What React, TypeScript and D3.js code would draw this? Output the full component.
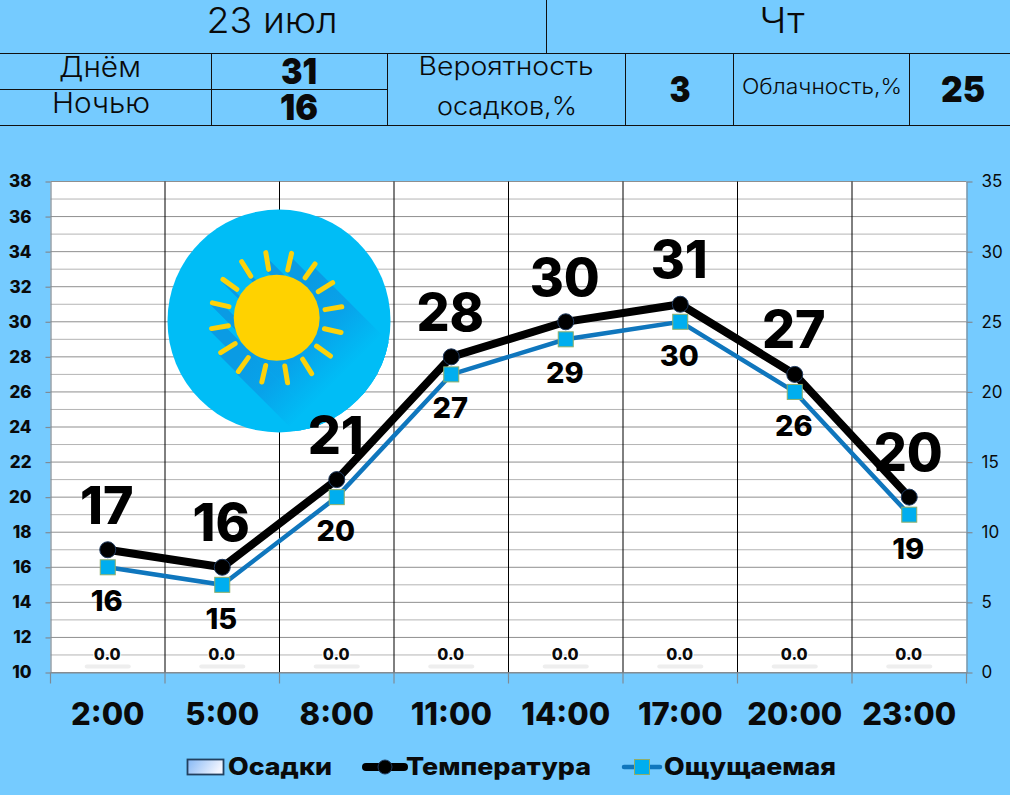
import { useEffect, useRef } from "react"
import * as d3 from "d3"

const hours = ["2:00", "5:00", "8:00", "11:00", "14:00", "17:00", "20:00", "23:00"]
const temperature = [17, 16, 21, 28, 30, 31, 27, 20]
const feelsLike = [16, 15, 20, 27, 29, 30, 26, 19]
const precipitation = [0, 0, 0, 0, 0, 0, 0, 0]
const leftTicks = d3.range(10, 39, 2)
const minorTicks = d3.range(10, 39, 1)
const rightTicks = [0, 5, 10, 15, 20, 25, 30, 35]

const FONT = "Inter, 'Open Sans', sans-serif"
const BG = "#75cbff"

export default function App() {
  const svgRef = useRef<SVGSVGElement>(null)

  useEffect(() => {
    if (!svgRef.current) return
    const root = d3.select(svgRef.current)
    root.selectAll("*").remove()
    root.attr("font-family", FONT)

    const width = 1010
    const height = 795
    const plot = { left: 50.5, right: 966.5, top: 181.5, bottom: 672.5 }

    root.append("rect").attr("width", width).attr("height", height).attr("fill", BG)

    // Header table
    const table = root.append("g").attr("stroke", "#111").attr("stroke-width", 1)
    const hLines = [
      [0, width, 53.5],
      [0, 387, 89.5],
      [0, width, 125.5],
    ]
    hLines.forEach(([x1, x2, y]) => {
      table.append("line").attr("x1", x1).attr("x2", x2).attr("y1", y).attr("y2", y)
    })
    const vLines = [
      [546.5, 0, 53],
      [211.5, 53, 125],
      [387.5, 53, 125],
      [625.5, 53, 125],
      [733.5, 53, 125],
      [909.5, 53, 125],
    ]
    vLines.forEach(([x, y1, y2]) => {
      table.append("line").attr("x1", x).attr("x2", x).attr("y1", y1).attr("y2", y2)
    })

    const cells: [string, number, number, number, number, number][] = [
      ["23 июл", 272, 33, 36, 300, 131],
      ["Чт", 782, 33, 36, 300, 45],
      ["Днём", 100, 77, 28, 300, 82],
      ["Ночью", 101, 113, 28, 300, 98],
      ["31", 299, 84, 36, 900, 36],
      ["16", 299, 120, 36, 900, 38],
      ["Вероятность", 506, 75, 25, 300, 175],
      ["осадков,%", 507, 115, 25, 300, 140],
      ["3", 680, 102, 36, 900, 21],
      ["Облачность,%", 822, 94, 22, 300, 160],
      ["25", 963, 102, 36, 900, 44],
    ]
    cells.forEach(([label, x, y, size, weight, len]) => {
      root
        .append("text")
        .attr("x", x)
        .attr("y", y)
        .attr("text-anchor", "middle")
        .attr("font-size", size)
        .attr("font-weight", weight)
        .attr("fill", "#0a0a0a")
        .attr("textLength", len)
        .attr("lengthAdjust", "spacingAndGlyphs")
        .text(label)
    })

    // Scales
    const x = d3.scaleBand<string>().domain(hours).range([plot.left, plot.right])
    const y = d3.scaleLinear().domain([10, 38]).range([plot.bottom, plot.top])
    const yRight = d3.scaleLinear().domain([0, 35]).range([plot.bottom, plot.top])
    const cx = (h: string) => (x(h) as number) + x.bandwidth() / 2

    root
      .append("rect")
      .attr("x", plot.left)
      .attr("y", plot.top)
      .attr("width", plot.right - plot.left)
      .attr("height", plot.bottom - plot.top)
      .attr("fill", "#fff")

    // Grid lines
    root
      .append("g")
      .selectAll("line")
      .data(minorTicks)
      .join("line")
      .attr("x1", plot.left)
      .attr("x2", plot.right)
      .attr("y1", (d) => y(d))
      .attr("y2", (d) => y(d))
      .attr("stroke", (d) => (d % 2 === 0 ? "#8f8f8f" : "#b4b4b4"))
      .attr("stroke-width", 1)

    root
      .append("g")
      .selectAll("line")
      .data(hours.slice(1))
      .join("line")
      .attr("x1", (d) => x(d) as number)
      .attr("x2", (d) => x(d) as number)
      .attr("y1", plot.top)
      .attr("y2", plot.bottom)
      .attr("stroke", "#000")
      .attr("stroke-width", 1)

    // Sun icon
    const defs = root.append("defs")
    const iconX = 279
    const iconY = 321
    const iconR = 111.5
    const sunX = 276.7
    const sunY = 317.7
    defs
      .append("clipPath")
      .attr("id", "icon-clip")
      .append("circle")
      .attr("cx", iconX)
      .attr("cy", iconY)
      .attr("r", iconR)
    const shadowGrad = defs
      .append("linearGradient")
      .attr("id", "sun-shadow")
      .attr("gradientUnits", "userSpaceOnUse")
      .attr("x1", sunX)
      .attr("y1", sunY)
      .attr("x2", sunX + 85)
      .attr("y2", sunY + 85)
    shadowGrad.append("stop").attr("offset", 0).attr("stop-color", "#0a9be4")
    shadowGrad.append("stop").attr("offset", 0.35).attr("stop-color", "#08a3ea")
    shadowGrad.append("stop").attr("offset", 0.72).attr("stop-color", "#00bdf6")

    root
      .append("circle")
      .attr("cx", iconX)
      .attr("cy", iconY)
      .attr("r", iconR)
      .attr("fill", "#00bdf6")
    const shadow = root.append("g").attr("clip-path", "url(#icon-clip)").attr("fill", "url(#sun-shadow)")
    const sweep = 170
    const rays = d3.range(16).map((i) => {
      const a = ((-99.5 + i * 22.5) * Math.PI) / 180
      return {
        x1: sunX + 49 * Math.cos(a),
        y1: sunY + 49 * Math.sin(a),
        x2: sunX + 66 * Math.cos(a),
        y2: sunY + 66 * Math.sin(a),
      }
    })
    const poly = (pts: [number, number][]) => (d3.line()(pts) as string) + "Z"
    const d45 = sweep * Math.SQRT1_2
    const diagX = 43 * Math.SQRT1_2
    shadow
      .append("path")
      .attr(
        "d",
        poly([
          [sunX + diagX, sunY - diagX],
          [sunX + diagX + d45, sunY - diagX + d45],
          [sunX - diagX + d45, sunY + diagX + d45],
          [sunX - diagX, sunY + diagX],
        ]),
      )
    shadow
      .selectAll("path.ray")
      .data(rays)
      .join("path")
      .attr("class", "ray")
      .attr("d", (r) =>
        poly([
          [r.x1 - 2, r.y1 + 2],
          [r.x2 - 2, r.y2 + 2],
          [r.x2 + d45 - 2, r.y2 + d45 + 2],
          [r.x1 + d45 - 2, r.y1 + d45 + 2],
        ]),
      )
    root
      .append("g")
      .selectAll("line")
      .data(rays)
      .join("line")
      .attr("x1", (r) => r.x1)
      .attr("y1", (r) => r.y1)
      .attr("x2", (r) => r.x2)
      .attr("y2", (r) => r.y2)
      .attr("stroke", "#fdd20a")
      .attr("stroke-width", 5)
      .attr("stroke-linecap", "round")
    root
      .append("circle")
      .attr("cx", sunX)
      .attr("cy", sunY)
      .attr("r", 43)
      .attr("fill", "#ffd200")

    // Axes
    const styleAxis = (g: d3.Selection<SVGGElement, unknown, null, undefined>) => {
      g.selectAll("path,line").attr("stroke", "#7f8a94").attr("stroke-width", 1.2)
      g.selectAll("text").attr("font-family", FONT).attr("fill", "#0a0a0a")
    }

    const leftAxis = root
      .append("g")
      .attr("transform", `translate(${plot.left},0)`)
      .call(d3.axisLeft(y).tickValues(leftTicks).tickSize(5).tickSizeOuter(0).tickPadding(14))
    styleAxis(leftAxis)
    leftAxis.selectAll("text").attr("font-size", 17).attr("font-weight", 800)

    const rightAxis = root
      .append("g")
      .attr("transform", `translate(${plot.right},0)`)
      .call(d3.axisRight(yRight).tickValues(rightTicks).tickSize(6).tickSizeOuter(0).tickPadding(9))
    styleAxis(rightAxis)
    rightAxis.selectAll("text").attr("font-size", 17).attr("font-weight", 400)

    const xAxis = root
      .append("g")
      .attr("transform", `translate(0,${plot.bottom})`)
      .call(d3.axisBottom(x).tickSize(0).tickPadding(30))
    styleAxis(xAxis)
    xAxis.selectAll("text").attr("font-size", 31).attr("font-weight", 800)
    xAxis
      .selectAll("line.sep")
      .data([...hours, "end"])
      .join("line")
      .attr("class", "sep")
      .attr("x1", (d) => (d === "end" ? plot.right : (x(d) as number)))
      .attr("x2", (d) => (d === "end" ? plot.right : (x(d) as number)))
      .attr("y1", 0)
      .attr("y2", 11)
      .attr("stroke", "#7f8a94")
      .attr("stroke-width", 1.2)

    // Precipitation bars (zero height, only the soft shadow shows) and their labels
    const precip = hours.map((h, i) => ({ h, v: precipitation[i] }))
    root
      .append("g")
      .selectAll("rect")
      .data(precip)
      .join("rect")
      .attr("x", (d) => cx(d.h) - 23)
      .attr("y", (d) => yRight(d.v) - 8)
      .attr("width", 46)
      .attr("height", 4)
      .attr("rx", 2)
      .attr("fill", "#eeeeee")
    root
      .append("g")
      .selectAll("text")
      .data(precip)
      .join("text")
      .attr("x", (d) => cx(d.h) - 0.5)
      .attr("y", (d) => yRight(d.v) - 13)
      .attr("text-anchor", "middle")
      .attr("font-size", 16)
      .attr("font-weight", 800)
      .attr("fill", "#0a0a0a")
      .attr("stroke", "#fff")
      .attr("stroke-width", 2)
      .attr("paint-order", "stroke")
      .text((d) => d.v.toFixed(1))

    // Temperature line
    const lineOf = d3
      .line<number>()
      .x((_, i) => cx(hours[i]))
      .y((d) => y(d))

    root
      .append("path")
      .datum(temperature)
      .attr("fill", "none")
      .attr("stroke", "#000")
      .attr("stroke-width", 8)
      .attr("d", lineOf)

    root
      .append("g")
      .selectAll("circle")
      .data(temperature)
      .join("circle")
      .attr("cx", (_, i) => cx(hours[i]))
      .attr("cy", (d) => y(d))
      .attr("r", 8)
      .attr("fill", "#000")
      .attr("stroke", "#1f3a5f")
      .attr("stroke-width", 1)

    // Feels-like line
    root
      .append("path")
      .datum(feelsLike)
      .attr("fill", "none")
      .attr("stroke", "#0f76bd")
      .attr("stroke-width", 4.5)
      .attr("d", lineOf)

    root
      .append("g")
      .selectAll("rect")
      .data(feelsLike)
      .join("rect")
      .attr("x", (_, i) => cx(hours[i]) - 7.5)
      .attr("y", (d) => y(d) - 7.5)
      .attr("width", 15)
      .attr("height", 15)
      .attr("fill", "#00aeef")
      .attr("stroke", "#8fae6a")
      .attr("stroke-width", 1)

    // Data labels
    root
      .append("g")
      .selectAll("text")
      .data(temperature)
      .join("text")
      .attr("x", (_, i) => cx(hours[i]) - 1)
      .attr("y", (d) => y(d) - 26)
      .attr("text-anchor", "middle")
      .attr("font-size", 52)
      .attr("font-weight", 800)
      .attr("fill", "#000")
      .text((d) => d)

    root
      .append("g")
      .selectAll("text")
      .data(feelsLike)
      .join("text")
      .attr("x", (_, i) => cx(hours[i]) - 1)
      .attr("y", (d) => y(d) + 44)
      .attr("text-anchor", "middle")
      .attr("font-size", 29)
      .attr("font-weight", 800)
      .attr("fill", "#000")
      .text((d) => d)

    // Legend
    const grad = defs
      .append("linearGradient")
      .attr("id", "legend-precip")
      .attr("x1", 0)
      .attr("y1", 0)
      .attr("x2", 1)
      .attr("y2", 0.3)
    grad.append("stop").attr("offset", 0).attr("stop-color", "#85b8f5")
    grad.append("stop").attr("offset", 1).attr("stop-color", "#f2f5ff")

    const legend = root.append("g")
    legend
      .append("rect")
      .attr("x", 187.5)
      .attr("y", 759.5)
      .attr("width", 36)
      .attr("height", 15)
      .attr("fill", "url(#legend-precip)")
      .attr("stroke", "#22405f")
      .attr("stroke-width", 1.8)
    legend
      .append("line")
      .attr("x1", 366)
      .attr("x2", 404)
      .attr("y1", 767)
      .attr("y2", 767)
      .attr("stroke", "#000")
      .attr("stroke-width", 8)
      .attr("stroke-linecap", "round")
    legend
      .append("circle")
      .attr("cx", 385)
      .attr("cy", 767)
      .attr("r", 7)
      .attr("fill", "#000")
      .attr("stroke", "#1f3a5f")
    legend
      .append("line")
      .attr("x1", 624)
      .attr("x2", 660)
      .attr("y1", 767)
      .attr("y2", 767)
      .attr("stroke", "#0f76bd")
      .attr("stroke-width", 4.5)
      .attr("stroke-linecap", "round")
    legend
      .append("rect")
      .attr("x", 634.5)
      .attr("y", 759.5)
      .attr("width", 15)
      .attr("height", 15)
      .attr("fill", "#00aeef")
      .attr("stroke", "#8fae6a")

    const legendLabels: [string, number, number][] = [
      ["Осадки", 228, 104],
      ["Температура", 406, 185],
      ["Ощущаемая", 664, 172],
    ]
    legendLabels.forEach(([label, lx, len]) => {
      legend
        .append("text")
        .attr("x", lx)
        .attr("y", 775)
        .attr("font-size", 24)
        .attr("font-weight", 800)
        .attr("fill", "#0a0a0a")
        .attr("textLength", len)
        .attr("lengthAdjust", "spacingAndGlyphs")
        .text(label)
    })
  }, [])

  return (
    <>
      <style>{`body{margin:0;background:${BG}}`}</style>
      <svg ref={svgRef} width={1010} height={795} style={{ display: "block" }} />
    </>
  )
}
